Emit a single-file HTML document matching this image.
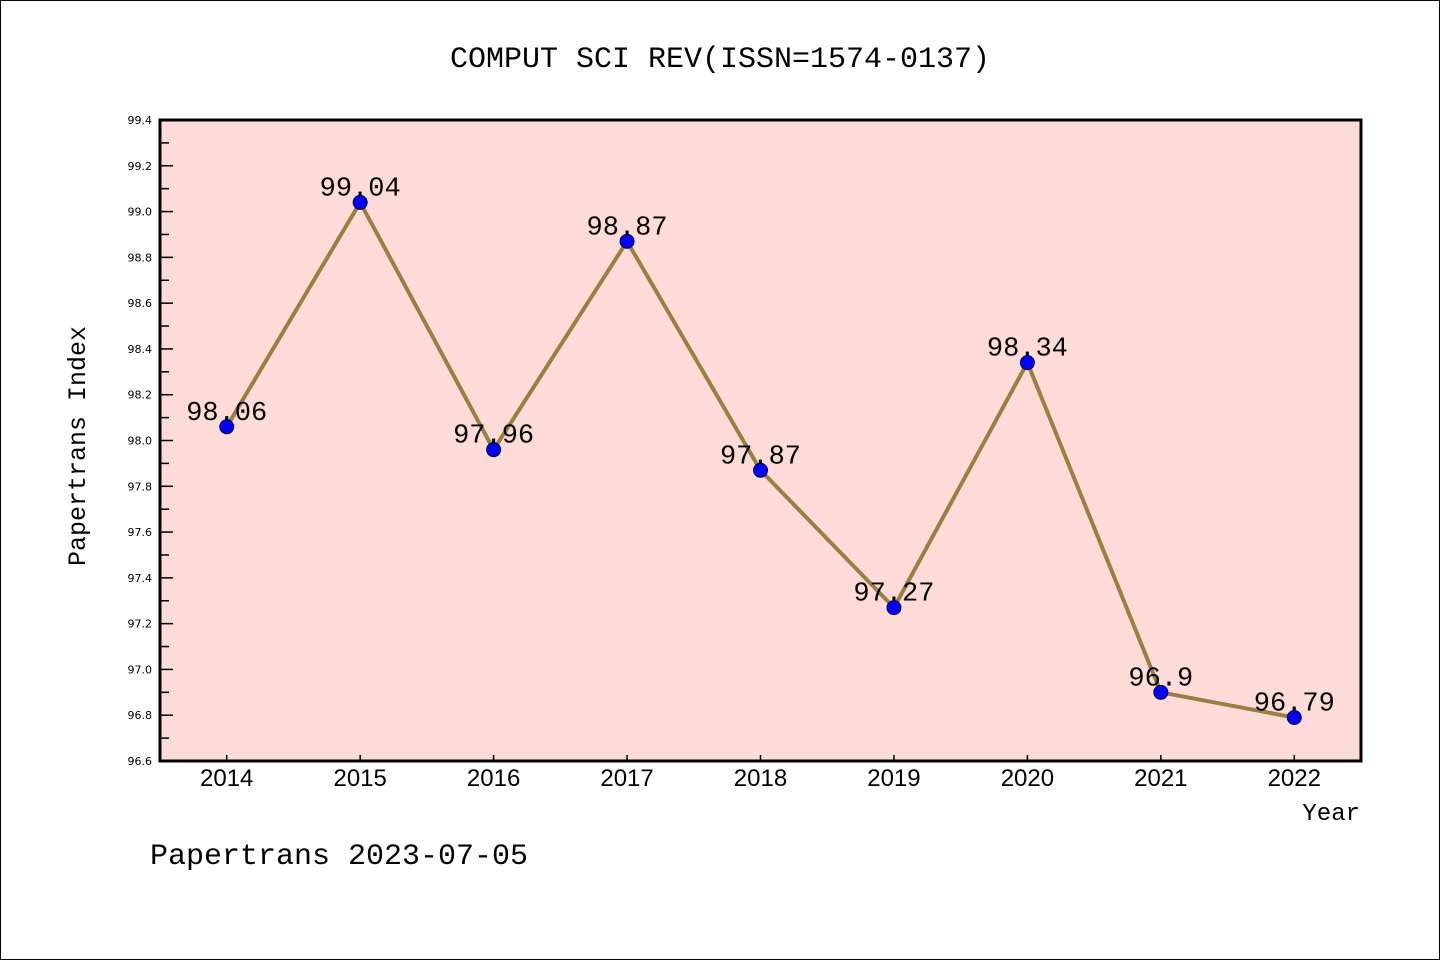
<!DOCTYPE html>
<html><head><meta charset="utf-8"><style>
html,body{margin:0;padding:0;background:#fff}
svg{display:block}
</style></head><body>
<svg id="chart" width="1440" height="960" xmlns="http://www.w3.org/2000/svg" font-family="'Liberation Mono','WenQuanYi Zen Hei',monospace">
<rect x="0.5" y="0.5" width="1439" height="959" fill="#fff" stroke="#000" stroke-width="1"/>
<text x="720" y="67" font-size="30" text-anchor="middle">COMPUT SCI REV(ISSN=1574-0137)</text>
<rect x="160" y="120" width="1201" height="641" fill="#fddbd8"/>
<g id="ticks"></g>
<g id="series"></g>
<rect x="160" y="120" width="1201" height="641" fill="none" stroke="#000" stroke-width="3"/>
<text transform="translate(85,446) rotate(-90)" font-size="25" text-anchor="middle">Papertrans Index</text>
<text x="1360" y="820" font-size="24" text-anchor="end">Year</text>
<text x="150" y="864" font-size="30">Papertrans 2023-07-05</text>
</svg>
<script>
const years = ['2014','2015','2016','2017','2018','2019','2020','2021','2022'];
const values = [98.06, 99.04, 97.96, 98.87, 97.87, 97.27, 98.34, 96.9, 96.79];
const valueLabels = ['98.06','99.04','97.96','98.87','97.87','97.27','98.34','96.9','96.79'];
const yTicks = ['96.6','96.8','97.0','97.2','97.4','97.6','97.8','98.0','98.2','98.4','98.6','98.8','99.0','99.2','99.4'];
const yMin = 96.6, yMax = 99.4;
const L=160,R=1361,T=120,B=761;
const NS='http://www.w3.org/2000/svg';
function xs(i){return L+(i+0.5)*(R-L)/years.length;}
function ys(v){return B-(v-yMin)/(yMax-yMin)*(B-T);}
function mk(tag,attrs,parent,text){const e=document.createElementNS(NS,tag);for(const k in attrs)e.setAttribute(k,attrs[k]);if(text!=null)e.textContent=text;parent.appendChild(e);return e;}
const tg=document.getElementById('ticks');
yTicks.forEach((t,i)=>{
  const y=ys(parseFloat(t));
  const ln=mk('line',{x1:L,x2:L+13,y1:y,y2:y,stroke:'#000','stroke-width':1.5},tg);
  
  
  const tx=mk('text',{x:L-8,y:y+4,'font-size':11,'text-anchor':'end','font-family':'DejaVu Sans, sans-serif'},tg,t);
  
  
  if(i<yTicks.length-1){
    const ym=ys(parseFloat(t)+0.1);
    const mn=mk('line',{x1:L,x2:L+9,y1:ym,y2:ym,stroke:'#000','stroke-width':1.5},tg);
    
    
  }
});
years.forEach((yr,i)=>{
  const x=xs(i);
  const ln=mk('line',{x1:x,x2:x,y1:B,y2:B-6,stroke:'#000','stroke-width':1.5},tg);
  
  
  const tx=mk('text',{x:x,y:B+25,'font-size':24,'text-anchor':'middle','font-family':'Liberation Sans, sans-serif'},tg,yr);
  
  
});
const sg=document.getElementById('series');
const pts=values.map((v,i)=>xs(i)+','+ys(v)).join(' ');
const pl=mk('polyline',{points:pts,fill:'none',stroke:'#9a8040','stroke-width':4,'stroke-linejoin':'round'},sg);


values.forEach((v,i)=>{
  const c=mk('circle',{cx:xs(i),cy:ys(v),r:7,fill:'#0000ff',stroke:'#000044','stroke-width':1},sg);
  
  
  const t=mk('text',{x:xs(i),y:ys(v)-7,'font-size':27,'text-anchor':'middle'},sg,valueLabels[i]);
  
  
});
</script>
</body></html>
